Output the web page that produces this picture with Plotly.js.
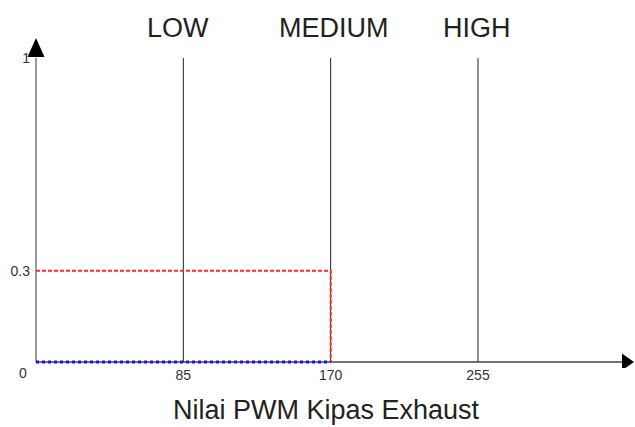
<!DOCTYPE html>
<html><head><meta charset="utf-8">
<script src="https://cdn.plot.ly/plotly-3.0.1.min.js"></script>
<style>html,body{margin:0;padding:0;background:#fff}#chart{width:635px;height:427px}</style>
</head><body><div id="chart"></div>
<script>
// Singleton membership positions
var setNames = ["LOW", "MEDIUM", "HIGH"];
var setPositions = [85, 170, 255];
var setHeight = 1;
// Red dashed result path (membership 0.3 up to 170)
var redX = [0, 170, 170];
var redY = [0.3, 0.3, 0];
// Blue dotted path along 0
var blueX = [0, 170];
var blueY = [0, 0];
var xTickVals = [85, 170, 255];
var xTickText = ["85", "170", "255"];
var yTickVals = [0.3, 1];
var yTickText = ["0.3", "1"];
var xTitle = "Nilai PWM Kipas Exhaust";

var font = "Liberation Sans, Arial, sans-serif";
var traces = [];
setPositions.forEach(function(p){
  traces.push({x:[p,p], y:[0,setHeight], mode:"lines", line:{color:"#222", width:1}, hoverinfo:"skip", showlegend:false});
});
traces.push({x:redX, y:redY, mode:"lines", line:{color:"#ff2a2a", width:2, dash:"4px,2px"}, showlegend:false});
traces.push({x:blueX, y:blueY, mode:"lines", line:{color:"#1414ff", width:3, dash:"3px,3px"}, showlegend:false});

var labelShift = [-5, 3, -1];
var annotations = setNames.map(function(n,i){
  return {x:setPositions[i], xref:"x", y:1, yref:"paper", yshift:10, xshift:labelShift[i], text:n, showarrow:false,
          yanchor:"middle", font:{family:font, size:27, color:"#222"}};
});
annotations.push({x:0, xref:"paper", y:0, yref:"y", xshift:-13, yshift:-11, text:"0", showarrow:false,
  xanchor:"center", yanchor:"middle", font:{family:font, size:14, color:"#333"}});
annotations.push({x:0.5, xref:"paper", y:0, yref:"paper", xshift:-9, yshift:-42, text:xTitle, showarrow:false,
  xanchor:"center", yanchor:"middle", font:{family:font, size:27, color:"#222"}});

var shapes = [
  {type:"line", xref:"paper", yref:"y", x0:0, x1:0, y0:0, y1:setHeight, line:{color:"#777", width:1.5}, layer:"below"},
  {type:"line", xref:"paper", yref:"y", x0:0, x1:0.985, y0:0, y1:0, line:{color:"#444", width:1.5}, layer:"below"},
  {type:"path", xref:"paper", yref:"paper", xsizemode:"pixel", ysizemode:"pixel", xanchor:0, yanchor:1,
   path:"M -8.5 -19 L 8.5 -19 L 0 0 Z", fillcolor:"#000", line:{width:0}},
  {type:"path", xref:"paper", yref:"y", xsizemode:"pixel", ysizemode:"pixel", xanchor:1, yanchor:0,
   path:"M -12 -8.5 L -12 8.5 L 0 0 Z", fillcolor:"#000", line:{width:0}}
];

var layout = {
  width:635, height:427,
  margin:{l:36, r:1, t:38, b:59},
  paper_bgcolor:"#fff", plot_bgcolor:"#fff",
  showlegend:false,
  xaxis:{range:[0,345], showgrid:false, zeroline:false, showline:false, ticks:"",
         tickvals:xTickVals, ticktext:xTickText, ticklabelstandoff:-3,
         tickfont:{family:font, size:14, color:"#333"}},
  yaxis:{range:[-0.02,1.066], showgrid:false, zeroline:false, showline:false,
         ticks:"", tickvals:yTickVals, ticktext:yTickText, ticklabelstandoff:5,
         tickfont:{family:font, size:14, color:"#333"}},
  annotations:annotations,
  shapes:shapes
};
Plotly.newPlot("chart", traces, layout, {displayModeBar:false, staticPlot:true});
</script></body></html>
